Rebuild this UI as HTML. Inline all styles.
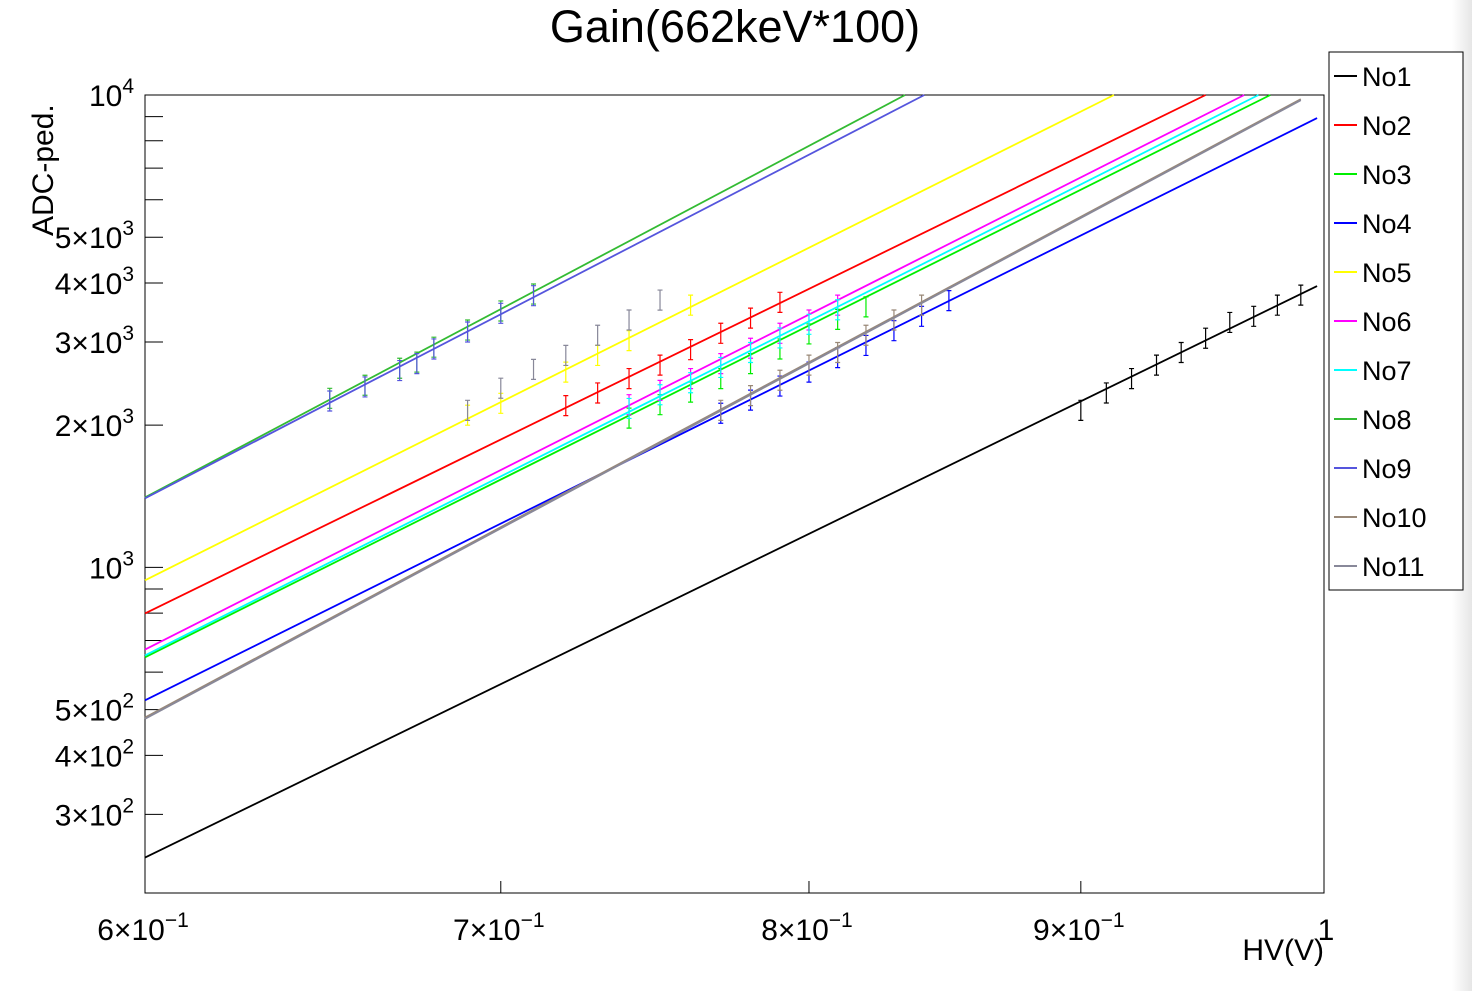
<!DOCTYPE html>
<html><head><meta charset="utf-8"><style>
html,body{margin:0;padding:0;background:#fff;}
svg{display:block;font-family:"Liberation Sans",sans-serif;}
</style></head><body>
<svg id="c" width="1472" height="991">
<defs><linearGradient id="edge" x1="0" x2="1" y1="0" y2="0"><stop offset="0" stop-color="#ffffff"/><stop offset="1" stop-color="#e6e6e6"/></linearGradient></defs>
<rect x="1452" y="0" width="20" height="991" fill="url(#edge)"/>
<text x="735" y="42" font-size="45" text-anchor="middle">Gain(662keV*100)</text>
<rect x="145" y="95" width="1179" height="798" fill="none" stroke="#000" stroke-width="1"/>
<text x="1324" y="960" font-size="30" text-anchor="end">HV(V)</text>
<text transform="translate(53,236) rotate(-90)" font-size="30" text-anchor="start">ADC-ped.</text>
<g id="axes"></g><g id="series"></g><g id="legend"></g>
</svg>
<script>
const seriesNames=["No1","No2","No3","No4","No5","No6","No7","No8","No9","No10","No11"];
const seriesColors=["#000000","#ff0000","#00ee00","#0000ff","#ffff00","#ff00ff","#00ffff","#33bb33","#5555dd","#998877","#888899"];
// line endpoints [hv, adc]
const lineStart=[[0.6,243],[0.6,799],[0.6,645],[0.6,523],[0.6,939],[0.6,670],[0.6,651],[0.6,1406],[0.6,1400],[0.6,481],[0.6,478]];
const lineEnd=[[0.997,3940],[0.95,10000],[0.977,10000],[0.997,8935],[0.913,10000],[0.966,10000],[0.972,10000],[0.834,10000],[0.841,10000],[0.99,9800],[0.99,9750]];
const pointsHV=[
[0.90,0.91,0.92,0.93,0.94,0.95,0.96,0.97,0.98,0.99],
[0.72,0.73,0.74,0.75,0.76,0.77,0.78,0.79],
[0.74,0.75,0.76,0.77,0.78,0.79,0.80,0.81,0.82],
[0.77,0.78,0.79,0.80,0.81,0.82,0.83,0.84,0.85],
[0.69,0.70,0.72,0.73,0.74,0.76],
[0.74,0.75,0.76,0.77,0.78,0.79,0.80,0.81],
[0.74,0.75,0.76,0.77,0.78,0.79,0.80,0.81],
[0.65,0.66,0.67,0.675,0.68,0.69,0.70,0.71],
[0.65,0.66,0.67,0.675,0.68,0.69,0.70,0.71],
[0.77,0.78,0.79,0.80,0.81,0.82,0.83,0.84],
[0.69,0.70,0.71,0.72,0.73,0.74,0.75]];
const pointsADC=[
[2150,2340,2510,2680,2850,3056,3300,3400,3590,3770],
[2200,2340,2510,2680,2890,3130,3370,3640],
[2070,2210,2350,2510,2700,2900,3120,3350,3560],
[2120,2260,2420,2590,2780,2950,3170,3400,3670],
[2100,2225,2590,2810,3020,3590],
[2210,2370,2510,2700,2910,3130,3340,3590],
[2170,2320,2460,2650,2850,3060,3270,3510],
[2280,2430,2640,2720,2925,3180,3490,3790],
[2250,2410,2610,2700,2900,3150,3450,3760],
[2150,2310,2490,2680,2850,3100,3340,3590],
[2150,2395,2625,2810,3100,3340,3680]];
const xTicks=[0.6,0.7,0.8,0.9,1.0];
const xTickLabels=["6","7","8","9",""];
const yMajor=[300,400,500,2000,3000,4000,5000];
const yMajorLabels=["3","4","5","2","3","4","5"];
const yMajorExp=["2","2","2","3","3","3","3"];
const NS="http://www.w3.org/2000/svg";
const X0=145,X1=1324,Y0=893,Y1=95,XMIN=0.6,XMAX=1.0,YMIN=204.5,YMAX=10000;
function xs(v){return X0+(Math.log10(v)-Math.log10(XMIN))/(Math.log10(XMAX)-Math.log10(XMIN))*(X1-X0);}
function ys(v){return Y0-(Math.log10(v)-Math.log10(YMIN))/(Math.log10(YMAX)-Math.log10(YMIN))*(Y0-Y1);}
function mk(t,a,p){const e=document.createElementNS(NS,t);for(const k in a)e.setAttribute(k,a[k]);(p||document.getElementById('series')).appendChild(e);return e;}
const ax=document.getElementById('axes');
for(let d=300;d<10000;){
 const y=ys(d);
 const t=mk('line',{x1:X0,x2:X0+18,y1:y,y2:y,stroke:'#000'},ax);
 
 
 d+= d<1000?100:1000;
}
function expLabel(x,y,m,e,anchor,name){
 const t=mk('text',{x:x,y:y,'font-size':30,'text-anchor':anchor},ax);
 
 
 t.innerHTML=(m?m+'\u00d7':'')+'10<tspan dy="-13" font-size="21">'+e+'</tspan>';
}
yMajor.forEach((v,i)=>expLabel(134,ys(v)+11,yMajorLabels[i],yMajorExp[i],'end','y-tick-label'));
expLabel(134,ys(1000)+11,'','3','end','y-tick-label');
expLabel(134,ys(10000)+11,'','4','end','y-tick-label');
xTicks.forEach((v,i)=>{
 const t=mk('line',{x1:xs(v),x2:xs(v),y1:Y0,y2:Y0-12,stroke:'#000'},ax);
 
 
 if(xTickLabels[i])expLabel(xs(v)-2,940,xTickLabels[i],'\u22121','middle','x-tick-label');
});
const one=mk('text',{x:1326,y:940,'font-size':30,'text-anchor':'middle'},ax);


one.textContent='1';
seriesNames.forEach((n,i)=>{
 const l=mk('line',{x1:xs(lineStart[i][0]),y1:ys(lineStart[i][1]),x2:xs(lineEnd[i][0]),y2:Math.max(Y1,ys(lineEnd[i][1])),stroke:seriesColors[i],'stroke-width':1.8});
 
 
 pointsHV[i].forEach((h,j)=>{
  const x=xs(h),v=pointsADC[i][j],ya=ys(v*1.05),yb=ys(v/1.05);
  const g=mk('path',{d:`M${x},${ya}V${yb}M${x-2.5},${ya}H${x+2.5}M${x-2.5},${yb}H${x+2.5}`,stroke:seriesColors[i],fill:'none','stroke-width':1.2});
  
  
 });
});
const lg=document.getElementById('legend');
const box=mk('rect',{x:1329,y:52,width:134,height:538,fill:'#fff',stroke:'#000'},lg);


seriesNames.forEach((n,i)=>{
 const y=76+i*49;
 const l=mk('line',{x1:1334,x2:1357,y1:y,y2:y,stroke:seriesColors[i],'stroke-width':2},lg);
 
 
 const t=mk('text',{x:1362,y:y+10,'font-size':27},lg);
 
 
 t.textContent=n;
});
</script>
</body></html>
